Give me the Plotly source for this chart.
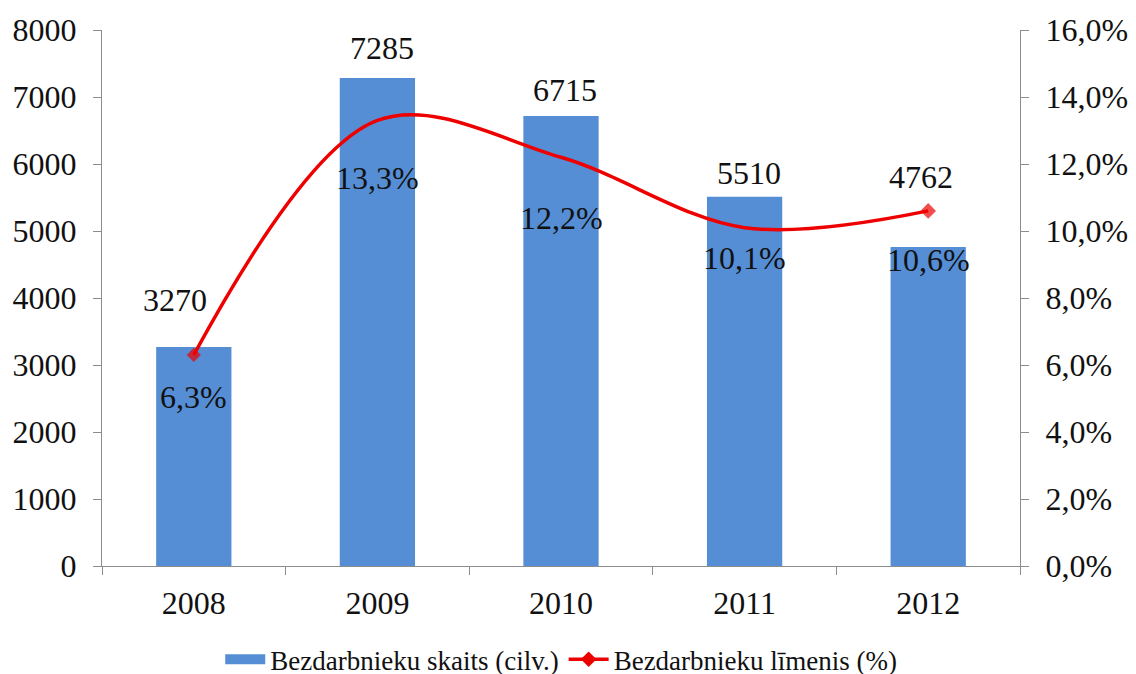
import plotly.graph_objects as go

years = ["2008", "2009", "2010", "2011", "2012"]
unemployed = [3270, 7285, 6715, 5510, 4762]
rate = [0.063, 0.133, 0.122, 0.101, 0.106]

bar_label_yshift = [47, 30, 26, 24, 70]
bar_label_xshift = [-19, 5, 4, 4, -7]
rate_label_yshift = [-42, -58, -61, -30, -49]
marker_sizes = [11, 0, 0, 0, 12]

FONT = "Liberation Serif, Times New Roman, serif"
BAR_COLOR = "#558ED5"
LINE_COLOR = "#EE0000"
AXIS_COLOR = "#8C8C8C"
FS = 32

fig = go.Figure()

fig.add_trace(go.Bar(
    x=years, y=unemployed, name="Bezdarbnieku skaits (cilv.)",
    marker=dict(color=BAR_COLOR, line=dict(width=0)),
    width=0.41, yaxis="y", showlegend=False,
))

fig.add_trace(go.Scatter(
    x=years, y=rate, name="Bezdarbnieku līmenis (%)",
    mode="lines+markers", line=dict(color=LINE_COLOR, width=3.5, shape="spline", smoothing=1.0),
    marker=dict(symbol="diamond", size=marker_sizes, color=LINE_COLOR, line=dict(width=0)),
    yaxis="y2", showlegend=False,
))

# legend-only entries
fig.add_trace(go.Scatter(
    x=[years[0]], y=[None], name="Bezdarbnieku skaits (cilv.)",
    mode="lines", line=dict(color=BAR_COLOR, width=13),
    yaxis="y",
))
fig.add_trace(go.Scatter(
    x=[years[0]], y=[None], name="Bezdarbnieku līmenis (%)",
    mode="lines+markers", line=dict(color=LINE_COLOR, width=3.5),
    marker=dict(symbol="diamond", size=12, color=LINE_COLOR, line=dict(width=0)),
    yaxis="y2",
))

annotations = []
for i, (v, ys, xs) in enumerate(zip(unemployed, bar_label_yshift, bar_label_xshift)):
    annotations.append(dict(
        x=i, y=v, xref="x", yref="y", text=str(v), showarrow=False,
        yshift=ys, xshift=xs, font=dict(family=FONT, size=FS, color="#111111"),
    ))
for i, (r, ys) in enumerate(zip(rate, rate_label_yshift)):
    annotations.append(dict(
        x=i, y=r, xref="x", yref="y2", text=f"{r*100:.1f}%".replace(".", ","),
        showarrow=False, yshift=ys, font=dict(family=FONT, size=FS, color="#111111"),
    ))

fig.update_layout(
    width=1136, height=674,
    margin=dict(l=94, r=124, t=22, b=116),
    paper_bgcolor="white", plot_bgcolor="white",
    font=dict(family=FONT, size=FS, color="#111111"),
    separators=",.",
    bargap=0.59,
    xaxis=dict(
        type="category", categoryorder="array", categoryarray=years,
        range=[-0.5, len(years) - 0.5],
        showline=True, linecolor=AXIS_COLOR, linewidth=1.3,
        ticks="outside", ticklen=8, tickcolor=AXIS_COLOR, tickson="boundaries",
        showgrid=False, tickfont=dict(size=FS), automargin=False, tickangle=0,
        ticklabelstandoff=8,
    ),
    yaxis=dict(
        range=[0, 8000], dtick=1000, tickformat="d", showline=True,
        linecolor=AXIS_COLOR, linewidth=1.3, ticks="outside", ticklen=8,
        tickcolor=AXIS_COLOR, showgrid=False, zeroline=False, tickfont=dict(size=FS),
        automargin=False, ticklabelstandoff=10,
    ),
    yaxis2=dict(
        range=[0, 0.16], dtick=0.02, tickformat=".1%", overlaying="y", side="right",
        showline=True, linecolor=AXIS_COLOR, linewidth=1.3, ticks="outside", ticklen=8,
        tickcolor=AXIS_COLOR, showgrid=False, zeroline=False, tickfont=dict(size=FS),
        automargin=False, ticklabelstandoff=10,
    ),
    legend=dict(
        orientation="h", x=0.487, xanchor="center", xref="container",
        y=0.033, yanchor="middle", yref="container",
        font=dict(family=FONT, size=27), itemwidth=40,
    ),
    annotations=annotations,
)

fig.write_html("out.html")
